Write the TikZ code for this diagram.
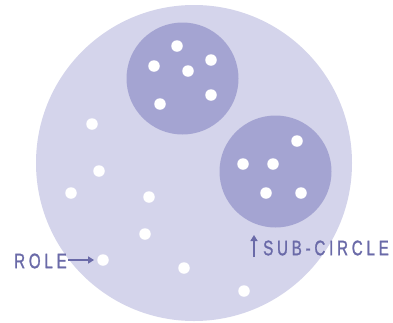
\documentclass[tikz,border=0pt]{standalone}
\usepackage{fontspec}
\newfontfamily\labfont[FakeStretch=0.72,LetterSpace=18,FakeBold=1.2]{Liberation Sans}
\usetikzlibrary{arrows.meta,calc}
\definecolor{bigc}{HTML}{D4D4EB}
\definecolor{subc}{HTML}{A4A4D2}
\definecolor{labc}{HTML}{6A6AA8}
\begin{document}
\begin{tikzpicture}[x=1pt,y=-1pt,
  bigcircle/.style={circle,fill=bigc,minimum size=316pt,inner sep=0pt},
  subcircle/.style={circle,fill=subc,minimum size=112pt,inner sep=0pt},
  dot/.style={circle,fill=white,minimum size=11.5pt,inner sep=0pt},
  lab/.style={text=labc,font=\labfont\fontsize{21}{21}\selectfont,inner sep=0pt,anchor=west},
  pointer/.style={draw=labc,line width=1.6pt,-{Triangle[length=6pt,width=7pt]}}]
\useasboundingbox (0,0) rectangle (393,322);
\fill[white] (0,0) rectangle (393,322);
\node[bigcircle] (big) at (194,163) {};
\node[subcircle] (s1) at (182.5,78.5) {};
\node[subcircle] (s2) at (275.5,171.5) {};
% dots in sub-circle 1
\node[dot] (a1) at (177,46) {};
\node[dot] (a2) at (154,66) {};
\node[dot] (a3) at (188,71) {};
\node[dot] (a4) at (211,60) {};
\node[dot] (a5) at (211,95) {};
\node[dot] (a6) at (160,104) {};
% dots in sub-circle 2
\node[dot] (b1) at (297,141) {};
\node[dot] (b2) at (243,164) {};
\node[dot] (b3) at (273,164) {};
\node[dot] (b4) at (266,193) {};
\node[dot] (b5) at (301,193) {};
% free roles
\node[dot] (r1) at (92,124) {};
\node[dot] (r2) at (99,171) {};
\node[dot] (r3) at (71,193) {};
\node[dot] (r4) at (149,197) {};
\node[dot] (r5) at (145,234) {};
\node[dot] (r6) at (103,260) {};
\node[dot] (r7) at (184,268) {};
\node[dot] (r8) at (244,291) {};
% labels
\node[lab] (role) at (14,261) {ROLE};
\draw[pointer] ($(role.east)+(1,-1)$) -- ($(r6.west)+(-3,0)$);
\node[lab] (sub) at (263,248) {SUB-CIRCLE};
\coordinate (ab) at (254,257);
\coordinate (at) at (254,235);
\draw[pointer] (ab) -- (at);
\end{tikzpicture}
\end{document}
